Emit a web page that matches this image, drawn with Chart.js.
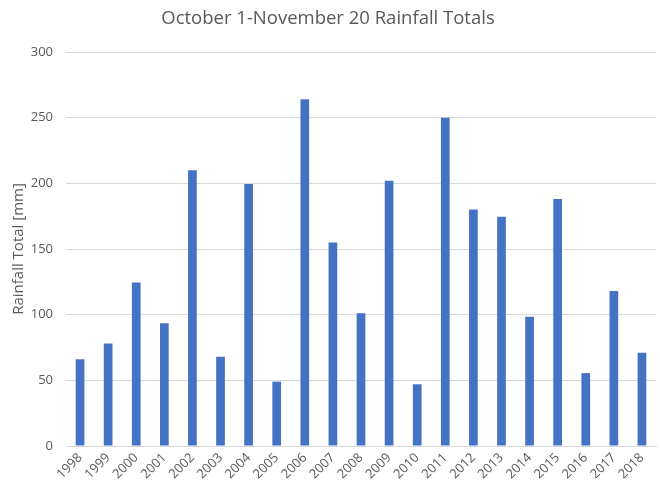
<!DOCTYPE html>
<html>
<head>
<meta charset="utf-8">
<script src="https://cdn.jsdelivr.net/npm/chart.js@4/dist/chart.umd.min.js"></script>
<style>
html,body{margin:0;padding:0;background:#fff;}
#wrap{width:660px;height:484px;position:relative;}
</style>
</head>
<body>
<div id="wrap"><canvas id="c" width="660" height="484"></canvas></div>
<script>
const chartTitle = "October 1-November 20 Rainfall Totals";
const yAxisTitle = "Rainfall Total [mm]";
const years = ["1998","1999","2000","2001","2002","2003","2004","2005","2006","2007","2008","2009","2010","2011","2012","2013","2014","2015","2016","2017","2018"];
const rainfall = [66, 78, 124.5, 93.5, 210, 68, 199.5, 49, 264, 155, 101, 202, 47, 250, 180, 174.5, 98.5, 188, 55.5, 118, 71];
const yTicks = [0, 50, 100, 150, 200, 250, 300];

const FONT = "'Open Sans', Lato, sans-serif";
const GREY = "#595959";

new Chart(document.getElementById('c'), {
  type: 'bar',
  data: {
    labels: years,
    datasets: [{
      label: 'Rainfall',
      data: rainfall,
      backgroundColor: '#4472C4',
      borderWidth: 0,
      barPercentage: 0.62,
      categoryPercentage: 0.5
    }]
  },
  options: {
    responsive: false,
    animation: false,
    devicePixelRatio: 1,
    layout: { padding: { left: 0, right: 4, top: 0, bottom: 0 } },
    plugins: {
      legend: { display: false },
      tooltip: { enabled: false },
      title: {
        display: true,
        text: chartTitle,
        color: GREY,
        font: { family: FONT, size: 18.5, weight: 'normal' },
        padding: { top: 8, bottom: 21.8 }
      }
    },
    scales: {
      x: {
        grid: { display: false, drawTicks: false },
        border: { display: true, color: '#d9d9d9' },
        ticks: {
          color: GREY,
          font: { family: FONT, size: 13 },
          maxRotation: 45,
          minRotation: 45,
          padding: 4,
          autoSkip: false
        },
        afterFit: (s) => { s.height = 38; }
      },
      y: {
        min: 0,
        max: 300,
        afterBuildTicks: (s) => { s.ticks = yTicks.map(v => ({ value: v })); },
        grid: { color: '#d9d9d9', drawTicks: false },
        border: { display: false },
        ticks: {
          color: GREY,
          font: { family: FONT, size: 13 },
          padding: 13
        },
        title: {
          display: true,
          text: yAxisTitle,
          color: GREY,
          font: { family: FONT, size: 15, weight: 'normal' },
          padding: { top: 10, bottom: 0 }
        },
        afterFit: (s) => { s.width = 66; }
      }
    }
  }
});
</script>
</body>
</html>
